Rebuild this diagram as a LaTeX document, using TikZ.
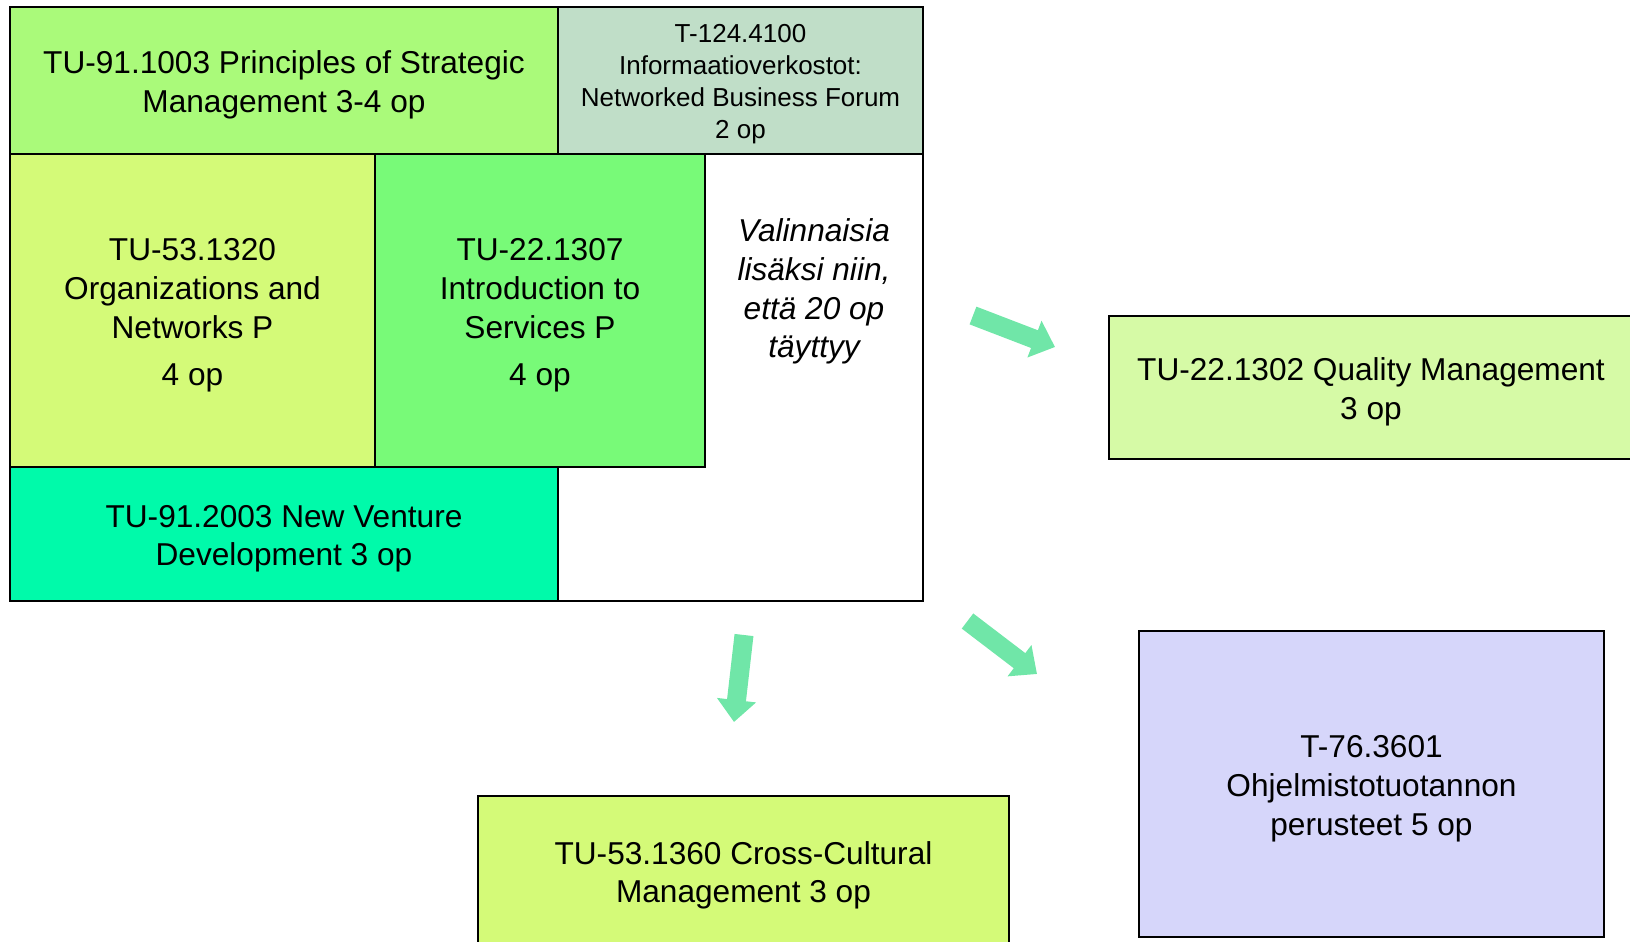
\documentclass[tikz,border=0pt]{standalone}
\usepackage{fontspec}
\setmainfont{Liberation Sans}
\usetikzlibrary{arrows.meta}

\definecolor{psmgreen}{RGB}{170,250,122}
\definecolor{ivkgray}{RGB}{192,222,200}
\definecolor{limegreen}{RGB}{212,250,120}
\definecolor{srvgreen}{RGB}{120,250,120}
\definecolor{nvdgreen}{RGB}{0,250,170}
\definecolor{qmgreen}{RGB}{214,250,166}
\definecolor{ohjblue}{RGB}{214,214,250}
\definecolor{arrowgreen}{RGB}{112,230,168}

% tuki ensimmaiselle riville
\newcommand{\tuki}[1][18pt]{\rule{0pt}{#1}}

\begin{document}
\begin{tikzpicture}[x=0.02cm, y=-0.02cm,
    kurssi/.style={draw=black, line width=1.2pt, align=center, inner sep=0pt,
      font=\fontsize{18}{22}\selectfont},
    pieni/.style={font=\fontsize{14.8}{18.2}\selectfont},
    nuoli/.style={draw=arrowgreen, line width=0.38cm,
      -{Triangle[length=0.44cm,width=0.76cm]}}]

    \useasboundingbox (0,0) rectangle (1630,941);
    \clip (0,0) rectangle (1630,941);

    % =========================================
    % === Pakolliset kurssit (vasen lohko) ===
    % =========================================

    % Kehys
    \node[kurssi, fill=white, minimum width=18.26cm, minimum height=11.88cm] (kehys) at (466.5,304) {};

    % Ylarivi
    \node[kurssi, fill=psmgreen, minimum width=10.96cm, minimum height=2.94cm] (psm) at (284,80.5)
      {\tuki TU-91.1003 Principles of Strategic\\Management 3-4 op};
    \node[kurssi, pieni, fill=ivkgray, minimum width=7.30cm, minimum height=2.94cm] (ivk) at (740.5,80.5)
      {\tuki[14pt]T-124.4100\\Informaatioverkostot:\\Networked Business Forum\\2 op};

    % Keskirivi
    \node[kurssi, fill=limegreen, minimum width=7.30cm, minimum height=6.26cm] (orgn) at (192.5,310.5)
      {\tuki TU-53.1320\\Organizations and\\Networks P\\[4.7pt]4 op};
    \node[kurssi, fill=srvgreen, minimum width=6.60cm, minimum height=6.26cm] (serv) at (540,310.5)
      {\tuki TU-22.1307\\Introduction to\\Services P\\[4.7pt]4 op};
    \node[align=center, font=\itshape\fontsize{18}{22}\selectfont] (valin) at (814,291.5)
      {Valinnaisia\\lisäksi niin,\\että 20 op\\täyttyy};

    % Alarivi
    \node[kurssi, fill=nvdgreen, minimum width=10.96cm, minimum height=2.68cm] (nvd) at (284,534)
      {\tuki TU-91.2003 New Venture\\Development 3 op};

    % =========================================
    % === Valinnaiset kurssit ===
    % =========================================

    \node[kurssi, line width=1pt, fill=qmgreen, minimum width=10.48cm, minimum height=2.86cm] (qm) at (1371,387.5)
      {\tuki TU-22.1302 Quality Management\\3 op};
    \node[kurssi, line width=1pt, fill=ohjblue, minimum width=9.30cm, minimum height=6.12cm] (ohj) at (1371.5,784)
      {\tuki T-76.3601\\Ohjelmistotuotannon\\perusteet 5 op};
    \node[kurssi, line width=1pt, fill=limegreen, minimum width=10.62cm, minimum height=3.00cm] (ccm) at (743.5,871)
      {\tuki TU-53.1360 Cross-Cultural\\Management 3 op};

    % Nuolet
    \coordinate (a1) at (973,315.5);
    \coordinate (b1) at (1055,347);
    \coordinate (a2) at (744,635);
    \coordinate (b2) at (734,722);
    \coordinate (a3) at (967.5,621);
    \coordinate (b3) at (1037,674);
    \draw[nuoli] (a1) -- (b1);
    \draw[nuoli] (a2) -- (b2);
    \draw[nuoli] (a3) -- (b3);

\end{tikzpicture}
\end{document}
